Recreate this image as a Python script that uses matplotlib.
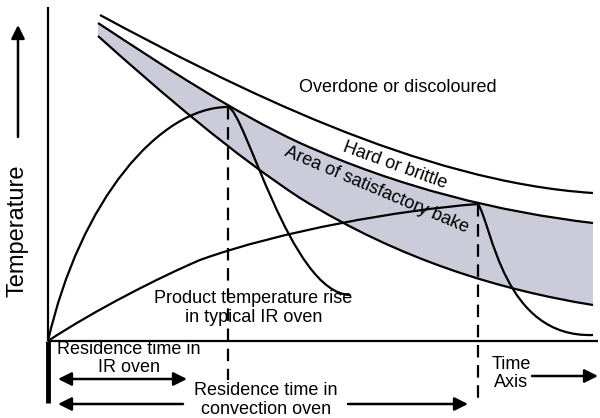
import matplotlib.pyplot as plt
from matplotlib.path import Path
from matplotlib.patches import PathPatch, FancyArrowPatch

plt.rcParams['font.family'] = ['Liberation Sans', 'DejaVu Sans']
plt.rcParams['lines.scale_dashes'] = False

# Bezier control points (time, temperature) for each boundary / product curve.
# Each curve is a chain of cubic segments: start, then 3 points per segment.
overdone_edge = [(52, 326), (182, 256), (372, 159), (545, 148)]
bake_top = [(50, 318), (117, 274), (185, 229), (252, 198),
            (352, 153), (452, 129), (545, 118)]
bake_bottom = [(50, 305), (117, 245), (185, 187), (252, 143),
               (352, 81), (452, 51), (545, 36)]
ir_product = [(0, 0), (32, 141), (112, 234), (180, 234),
              (197, 231), (242, 48), (302, 46)]
convection_product = [(0, 0), (47, 31), (112, 64), (152, 81),
                      (232, 110), (352, 131), (430, 137),
                      (444, 116), (455, 3), (545, 6)]

# end of residence time for each oven
ir_time = 180
ir_peak = 234
conv_time = 430
conv_peak = 137


def bezier(pts):
    codes = [Path.MOVETO] + [Path.CURVE4] * (len(pts) - 1)
    return Path(pts, codes)


fig = plt.figure(figsize=(6, 4.18), dpi=100)
ax = fig.add_axes([0, 0, 1, 1])
ax.set_xlim(-48, 552)
ax.set_ylim(-77, 341)
ax.axis('off')

# shaded band of satisfactory bake
verts = bake_top + bake_bottom[::-1] + [bake_top[0]]
codes = ([Path.MOVETO] + [Path.CURVE4] * (len(bake_top) - 1) + [Path.LINETO]
         + [Path.CURVE4] * (len(bake_bottom) - 1) + [Path.CLOSEPOLY])
ax.add_patch(PathPatch(Path(verts, codes), facecolor='#cbcbd9', edgecolor='none'))

for pts in [overdone_edge, bake_top, bake_bottom, ir_product, convection_product]:
    ax.add_patch(PathPatch(bezier(pts), facecolor='none', edgecolor='black', lw=1.6))

# axes
ax.plot([0, 0], [0, 334], color='black', lw=1.6, solid_capstyle='butt')
ax.plot([0, 0], [-62, 0], color='black', lw=3.5, solid_capstyle='butt')
ax.plot([0, 550], [0, 0], color='black', lw=1.6, solid_capstyle='butt')

# residence time markers
ax.plot([ir_time, ir_time], [ir_peak, -39], color='black', lw=1.6,
        linestyle=(0, (9, 5.5)))
ax.plot([conv_time, conv_time], [conv_peak, -59], color='black', lw=1.6,
        linestyle=(0, (9, 5.5)))


def arrow(p0, p1, style='-|>'):
    ax.add_patch(FancyArrowPatch(p0, p1, arrowstyle=style, mutation_scale=20,
                                 color='black', lw=1.8, shrinkA=0, shrinkB=0))


arrow((139, -38), (10, -38), '<|-|>')
arrow((135, -63), (10, -63))
arrow((300, -63), (420, -63))
arrow((484, -35), (550, -35))
arrow((-30, 204), (-30, 316))

# multi-line labels are anchored on the baseline of their last line
fs = 13
ax.text(350, 248.5, 'Overdone or discoloured', fontsize=fs, ha='center', va='baseline')
ax.text(347, 176, 'Hard or brittle', fontsize=fs, ha='center', va='center',
        rotation=-20, rotation_mode='anchor')
ax.text(329, 151, 'Area of satisfactory bake', fontsize=fs, ha='center', va='center',
        rotation=-23, rotation_mode='anchor')
ax.text(205.5, 19, 'Product temperature rise\nin typical IR oven', fontsize=fs,
        ha='center', va='baseline', multialignment='center', linespacing=1.15)
ax.text(80.5, -31, 'Residence time in\nIR oven', fontsize=fs,
        ha='center', va='baseline', multialignment='center', linespacing=1.1)
ax.text(218, -73, 'Residence time in\nconvection oven', fontsize=fs,
        ha='center', va='baseline', multialignment='center', linespacing=1.15)
ax.text(463.5, -46, 'Time\nAxis', fontsize=fs,
        ha='center', va='baseline', multialignment='center', linespacing=1.1)
ax.text(-30, 110, 'Temperature', fontsize=17, ha='center', va='center', rotation=90)

fig.savefig('out.png', dpi=100)
